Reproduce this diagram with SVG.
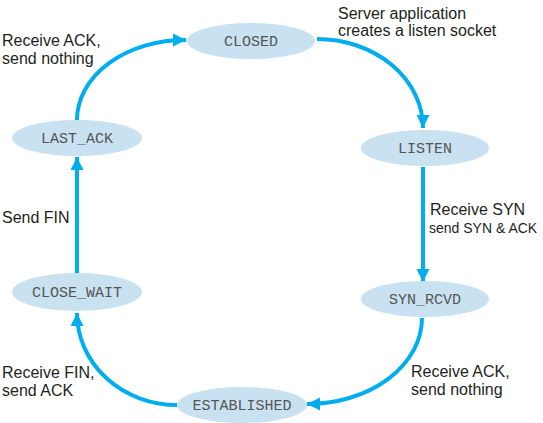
<svg xmlns="http://www.w3.org/2000/svg" width="543" height="423" viewBox="0 0 543 423">
<style>
.st{fill:#c8e2f1;stroke:none}
.nt{font-family:"Liberation Mono","DejaVu Sans Mono",monospace;font-size:15px;fill:#555555;text-anchor:middle}
.lb{font-family:"Liberation Sans",Arial,sans-serif;font-size:16px;fill:#231f20}
.sm{font-size:14px}
.ed{fill:none;stroke:#00aeef;stroke-width:4}
</style>
<defs>
<marker id="ah" markerUnits="userSpaceOnUse" markerWidth="14" markerHeight="14" refX="13" refY="6.5" orient="auto">
<path d="M0,0 L13,6.5 L0,13 Z" fill="#00aeef"/>
</marker>
</defs>
<rect width="543" height="423" fill="#ffffff"/>
<g id="connectors">
<path class="ed" d="M317,39 A106,89 0 0 1 423,128" marker-end="url(#ah)"/>
<path class="ed" d="M423,167 L423,282" marker-end="url(#ah)"/>
<path class="ed" d="M422,318 A115,86 0 0 1 307,404" marker-end="url(#ah)"/>
<path class="ed" d="M177,405 A100,92 0 0 1 77,313" marker-end="url(#ah)"/>
<path class="ed" d="M77,273 L77,157" marker-end="url(#ah)"/>
<path class="ed" d="M77,120 A108,80 0 0 1 186,40" marker-end="url(#ah)"/>
</g>
<g id="closed"><ellipse class="st" cx="251" cy="41" rx="64" ry="18"/><text class="nt" x="251" y="46">CLOSED</text></g>
<g id="listen"><ellipse class="st" cx="425" cy="148" rx="64" ry="18"/><text class="nt" x="425" y="153">LISTEN</text></g>
<g id="syn_rcvd"><ellipse class="st" cx="425" cy="299" rx="64" ry="18"/><text class="nt" x="425" y="304">SYN_RCVD</text></g>
<g id="established"><ellipse class="st" cx="242" cy="405" rx="65" ry="18"/><text class="nt" x="242" y="410">ESTABLISHED</text></g>
<g id="close_wait"><ellipse class="st" cx="77" cy="292" rx="65" ry="19"/><text class="nt" x="77" y="297">CLOSE_WAIT</text></g>
<g id="last_ack"><ellipse class="st" cx="77" cy="138" rx="65" ry="18"/><text class="nt" x="77" y="143">LAST_ACK</text></g>
<g id="labels">
<text class="lb" x="338" y="19">Server application</text>
<text class="lb" x="338" y="36">creates a listen socket</text>
<text class="lb" x="2" y="46">Receive ACK,</text>
<text class="lb" x="2" y="64">send nothing</text>
<text class="lb" x="430" y="215">Receive SYN</text>
<text class="lb sm" x="429" y="233">send SYN &amp; ACK</text>
<text class="lb" x="2" y="223">Send FIN</text>
<text class="lb" x="2" y="378">Receive FIN,</text>
<text class="lb" x="2" y="396">send ACK</text>
<text class="lb" x="411" y="377">Receive ACK,</text>
<text class="lb" x="411" y="395">send nothing</text>
</g>
</svg>
